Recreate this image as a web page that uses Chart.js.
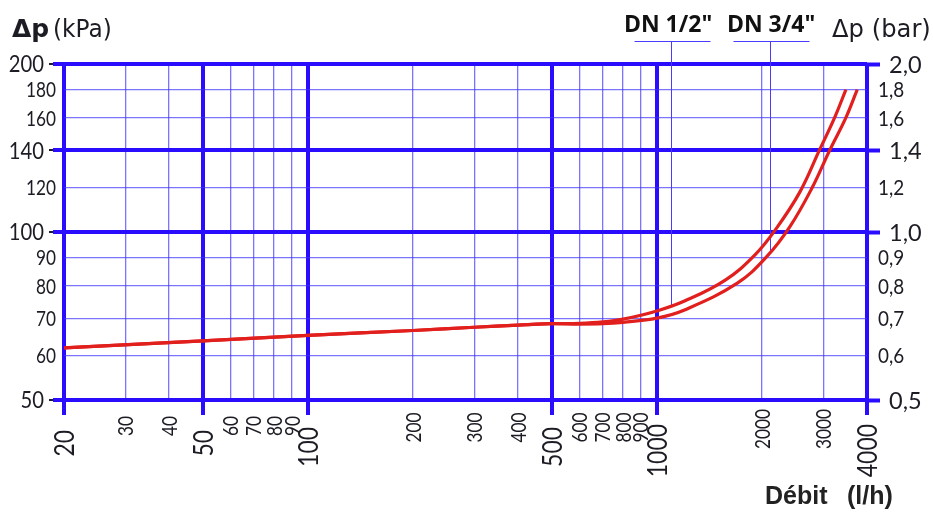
<!DOCTYPE html>
<html>
<head>
<meta charset="utf-8">
<script src="https://cdn.jsdelivr.net/npm/chart.js@4.4.1/dist/chart.umd.min.js"></script>
<style>
  html, body { margin: 0; padding: 0; background: #fff; }
  canvas { display: block; }
</style>
</head>
<body>
<canvas id="dpChart" width="933" height="514"></canvas>
<script>
// curves: flow (l/h) -> pressure drop (kPa)
const flowHalf = [20, 50, 100, 200, 300, 400, 500, 600, 700, 800, 1000, 1200, 1570, 1910, 2200, 2570, 2920, 3240, 3480];
const dpHalf   = [62, 63.8, 65.3, 66.6, 67.5, 68.1, 68.5, 68.6, 69.0, 69.8, 72.2, 75.2, 82, 91, 101.5, 118, 140, 161, 180];
const flowThreeQuarter = [20, 50, 100, 200, 300, 400, 500, 600, 700, 800, 1000, 1200, 1700, 2070, 2400, 2775, 3125, 3475, 3750];
const dpThreeQuarter   = [62, 63.8, 65.3, 66.6, 67.5, 68.1, 68.5, 68.4, 68.5, 68.9, 70.1, 72.5, 81, 90.5, 102, 119.5, 140, 160, 180];

// axes
const flowTicks = [20, 30, 40, 50, 60, 70, 80, 90, 100, 200, 300, 400, 500, 600, 700, 800, 900, 1000, 2000, 3000, 4000];
const flowMajor = [20, 50, 100, 500, 1000, 4000];
const kpaTicks = [50, 60, 70, 80, 90, 100, 120, 140, 160, 180, 200];
const kpaMajor = [50, 100, 140, 200];
const barTicks = [0.5, 0.6, 0.7, 0.8, 0.9, 1.0, 1.2, 1.4, 1.6, 1.8, 2.0];
const barLabels = ['0,5', '0,6', '0,7', '0,8', '0,9', '1,0', '1,2', '1,4', '1,6', '1,8', '2,0'];

// DN markers at the top
const dnLabels = ['DN 1/2"', 'DN 3/4"'];
const dnFlow = [1098, 2110];
const dnDp = [73.5, 91.8];

const THICK = '#2a0cff';
const THIN = 'rgba(60,50,255,0.68)';
const RED = '#e11f1d';
const INK = '#1c1c24';

const isMajor = (list, v) => list.some(m => Math.abs(m - v) < 1e-9);

function label(ctx, s, x, y, size, align, sx, font) {
  ctx.save();
  ctx.font = size + 'px ' + (font || 'Lato, sans-serif');
  ctx.translate(x, y);
  ctx.scale(sx, 1);
  ctx.textAlign = align;
  ctx.textBaseline = 'alphabetic';
  ctx.fillText(s, 0, 0);
  ctx.restore();
}

const labelsPlugin = {
  id: 'labels',
  beforeDatasetsDraw(chart) {
    const ctx = chart.ctx;
    const x = chart.scales.x, y = chart.scales.y;
    ctx.save();
    ctx.strokeStyle = '#4a3cff';
    ctx.lineWidth = 1;
    dnFlow.forEach((f, i) => {
      const px = Math.round(x.getPixelForValue(f)) + 0.5;
      ctx.beginPath();
      ctx.moveTo(px, 41.5);
      ctx.lineTo(px, y.getPixelForValue(dnDp[i]));
      ctx.stroke();
      ctx.beginPath();
      ctx.moveTo(px - 37, 41.5);
      ctx.lineTo(px + 39, 41.5);
      ctx.stroke();
    });
    ctx.restore();
  },
  afterDraw(chart) {
    const ctx = chart.ctx;
    const x = chart.scales.x, y = chart.scales.y, y2 = chart.scales.y2;
    ctx.save();
    ctx.fillStyle = INK;

    // left kPa labels
    kpaTicks.forEach(v => {
      const py = y.getPixelForValue(v);
      if (isMajor(kpaMajor, v)) {
        label(ctx, String(v), 44, py + 8.3, 23, 'right', 0.88);
        ctx.fillRect(49, Math.round(py) - 1, 4, 2);
      } else {
        label(ctx, String(v), 56, py + 7.5, 21, 'right', 0.82);
      }
    });

    // right bar labels
    barTicks.forEach((v, i) => {
      const py = y2.getPixelForValue(v);
      if (isMajor(kpaMajor, v * 100)) {
        label(ctx, barLabels[i], 889, py + 8.5, 24, 'left', 0.98);
      } else {
        label(ctx, barLabels[i], 878, py + 7.5, 21, 'left', 0.9);
      }
    });

    // flow labels, rotated
    flowTicks.forEach(v => {
      const px = x.getPixelForValue(v);
      const s = String(v);
      const big = isMajor(flowMajor, v);
      const size = big ? 27 : 21;
      const top = big ? 430 - 3 * (s.length - 2) : 416 - 3.5 * (s.length - 2);
      ctx.save();
      ctx.translate(px, top);
      ctx.rotate(-Math.PI / 2);
      ctx.scale(big ? 0.85 : 0.82, 1);
      ctx.font = size + 'px Lato, sans-serif';
      ctx.textAlign = 'right';
      ctx.textBaseline = 'alphabetic';
      ctx.fillText(s, 0, size * 0.36);
      ctx.restore();
    });

    // titles
    ctx.textAlign = 'left';
    ctx.font = 'bold 25px "DejaVu Sans"';
    ctx.fillText('Δp', 12, 37);
    label(ctx, '(kPa)', 53, 37, 25, 'left', 0.93, '"DejaVu Sans"');
    label(ctx, 'Δp (bar)', 832, 37, 25, 'left', 0.97, '"DejaVu Sans"');

    ctx.fillStyle = '#111';
    ctx.font = 'bold 23px "Open Sans"';
    ctx.textAlign = 'center';
    dnFlow.forEach((f, i) => {
      ctx.fillText(dnLabels[i], x.getPixelForValue(f) - (i === 0 ? 3 : -1), 32);
    });

    ctx.fillStyle = '#222';
    ctx.font = 'bold 25px "Liberation Sans"';
    ctx.textAlign = 'left';
    ctx.fillText('Débit', 765, 504);
    ctx.fillText('(l/h)', 847, 504);
    ctx.restore();
  }
};

const toPoints = (xs, ys) => xs.map((v, i) => ({ x: v, y: ys[i] }));

new Chart(document.getElementById('dpChart'), {
  type: 'scatter',
  data: {
    datasets: [{
      label: 'DN 1/2"',
      data: toPoints(flowHalf, dpHalf),
      showLine: true,
      borderColor: RED,
      borderWidth: 3.2,
      pointRadius: 0,
      tension: 0.4
    }, {
      label: 'DN 3/4"',
      data: toPoints(flowThreeQuarter, dpThreeQuarter),
      showLine: true,
      borderColor: RED,
      borderWidth: 3.2,
      pointRadius: 0,
      tension: 0.4
    }]
  },
  options: {
    responsive: false,
    animation: false,
    layout: { padding: { top: 64, left: 0, right: 0, bottom: 0 } },
    plugins: {
      legend: { display: false },
      tooltip: { enabled: false }
    },
    scales: {
      x: {
        type: 'logarithmic',
        min: 20,
        max: 4000,
        afterBuildTicks: s => { s.ticks = flowTicks.map(v => ({ value: v })); },
        afterFit: s => { s.height = 114; },
        ticks: { display: false },
        border: { display: false },
        grid: {
          color: c => isMajor(flowMajor, c.tick.value) ? THICK : THIN,
          lineWidth: c => isMajor(flowMajor, c.tick.value) ? 4 : 1.3,
          tickLength: 15,
          tickColor: c => isMajor(flowMajor, c.tick.value) ? THICK : 'rgba(0,0,0,0)',
          tickWidth: c => isMajor(flowMajor, c.tick.value) ? 4 : 0
        }
      },
      y: {
        type: 'logarithmic',
        position: 'left',
        min: 50,
        max: 200,
        afterBuildTicks: s => { s.ticks = kpaTicks.map(v => ({ value: v })); },
        afterFit: s => { s.width = 64; },
        ticks: { display: false },
        border: { display: false },
        grid: {
          color: c => isMajor(kpaMajor, c.tick.value) ? THICK : THIN,
          lineWidth: c => isMajor(kpaMajor, c.tick.value) ? 4 : 1.3,
          tickLength: 11,
          tickColor: c => isMajor(kpaMajor, c.tick.value) ? THICK : 'rgba(0,0,0,0)',
          tickWidth: c => isMajor(kpaMajor, c.tick.value) ? 4 : 0
        }
      },
      y2: {
        type: 'logarithmic',
        position: 'right',
        min: 0.5,
        max: 2.0,
        afterBuildTicks: s => { s.ticks = barTicks.map(v => ({ value: v })); },
        afterFit: s => { s.width = 66; },
        ticks: { display: false },
        border: { display: false },
        grid: {
          drawOnChartArea: false,
          tickLength: 13,
          tickColor: c => isMajor(kpaMajor, Math.round(c.tick.value * 100)) ? THICK : 'rgba(0,0,0,0)',
          tickWidth: c => isMajor(kpaMajor, Math.round(c.tick.value * 100)) ? 4 : 0
        }
      }
    }
  },
  plugins: [labelsPlugin]
});
</script>
</body>
</html>
